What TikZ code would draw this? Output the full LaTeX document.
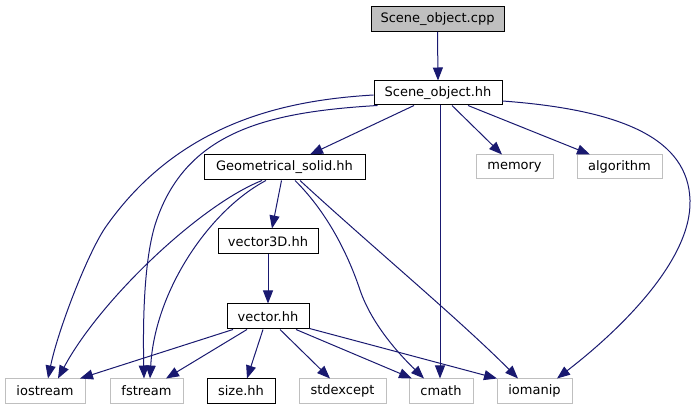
\documentclass[tikz,border=0pt]{standalone}
\usepackage{fontspec}
\setmainfont{DejaVu Sans}
\usetikzlibrary{arrows.meta,calc}
\definecolor{edgeblue}{HTML}{191970}
\definecolor{graybd}{HTML}{BFBFBF}
\definecolor{grayfill}{HTML}{BFBFBF}
\begin{document}
\begin{tikzpicture}[x=1pt,y=-1pt,
  every node/.style={font=\fontsize{13}{15}\selectfont, inner sep=0pt, minimum height=24},
  mainbox/.style={draw=black, line width=1pt, fill=white},
  curbox/.style={draw=black, line width=1pt, fill=grayfill},
  extbox/.style={draw=graybd, line width=1pt, fill=white},
  dep/.style={draw=edgeblue, line width=1pt, -{Triangle[length=13pt,width=10pt]}}
]
\useasboundingbox (0,0) rectangle (696,411);
% nodes
\node[curbox, minimum width=133, minimum height=25] (cpp) at (437.5,19) {Scene\_object.cpp};
\node[mainbox, minimum width=128] (hh) at (438,93) {Scene\_object.hh};
\node[extbox, minimum width=77] (memory) at (514.5,167) {memory};
\node[extbox, minimum width=85] (algorithm) at (619.5,167) {algorithm};
\node[mainbox, minimum width=161, minimum height=25] (geo) at (284.5,167.5) {Geometrical\_solid.hh};
\node[mainbox, minimum width=100, minimum height=25] (v3d) at (268,241.5) {vector3D.hh};
\node[mainbox, minimum width=82, minimum height=25] (vec) at (268,316.5) {vector.hh};
\node[extbox, minimum width=80] (iostream) at (45,391) {iostream};
\node[extbox, minimum width=73] (fstream) at (146.5,391) {fstream};
\node[mainbox, minimum width=68] (size) at (241,391) {size.hh};
\node[extbox, minimum width=87] (stdexcept) at (342.5,391) {stdexcept};
\node[extbox, minimum width=64] (cmath) at (441,391) {cmath};
\node[extbox, minimum width=75] (iomanip) at (534.5,391) {iomanip};
% edges
\draw[dep] (cpp.south) -- (hh.north);
\draw[dep] ($(hh.west)+(0,2)$) .. controls (290,100) and (180,120) .. (105,228)
   .. controls (87,255) and (58,330) .. ($(iostream.north)+(3,0)$);
\draw[dep] ($(hh.south west)+(4,0)$) .. controls (270,112) and (185,130) .. (155,225)
   .. controls (143,265) and (143,330) .. ($(fstream.north)+(-2.5,0)$);
\draw[dep] ($(hh.south)+(-24,0)$) -- ($(geo.north)+(25.5,0)$);
\draw[dep] ($(hh.south)+(2,0)$) -- ($(cmath.north)+(-1,0)$);
\draw[dep] ($(hh.south)+(14,0)$) -- ($(memory.north)+(-12.5,0)$);
\draw[dep] ($(hh.south)+(30,0)$) -- ($(algorithm.north)+(-29.5,0)$);
\draw[dep] ($(hh.east)+(0,8)$) .. controls (625,110) and (688,140) .. (690,200)
   .. controls (692,260) and (620,330) .. ($(iomanip.north)+(22.5,0)$);
\draw[dep] ($(geo.south)+(-22.5,0)$) .. controls (200,205) and (100,300) .. ($(iostream.north)+(13,0)$);
\draw[dep] ($(geo.south)+(-18.5,0)$) .. controls (210,210) and (155,290) .. ($(fstream.north)+(3.5,0)$);
\draw[dep] ($(geo.south)+(-3,0)$) -- ($(v3d.north)+(4,0)$);
\draw[dep] ($(geo.south)+(10.5,0)$) .. controls (330,215) and (350,260) .. (360,290)
   .. controls (372,325) and (400,355) .. ($(cmath.north)+(-17,0)$);
\draw[dep] ($(geo.south)+(15.5,0)$) .. controls (370,245) and (460,320) .. ($(iomanip.north)+(-16.5,0)$);
\draw[dep] (v3d.south) -- (vec.north);
\draw[dep] ($(vec.south)+(-35,0)$) -- ($(iostream.north)+(35,0)$);
\draw[dep] ($(vec.south)+(-21,0)$) -- ($(fstream.north)+(19.5,0)$);
\draw[dep] ($(vec.south)+(-5,0)$) -- ($(size.north)+(6,0)$);
\draw[dep] ($(vec.south)+(12,0)$) -- ($(stdexcept.north)+(-12.5,0)$);
\draw[dep] ($(vec.south)+(28,0)$) -- ($(cmath.north)+(-29,0)$);
\draw[dep] ($(vec.south east)+(0,-1)$) -- ($(iomanip.north west)+(0.5,0)$);
\end{tikzpicture}
\end{document}
